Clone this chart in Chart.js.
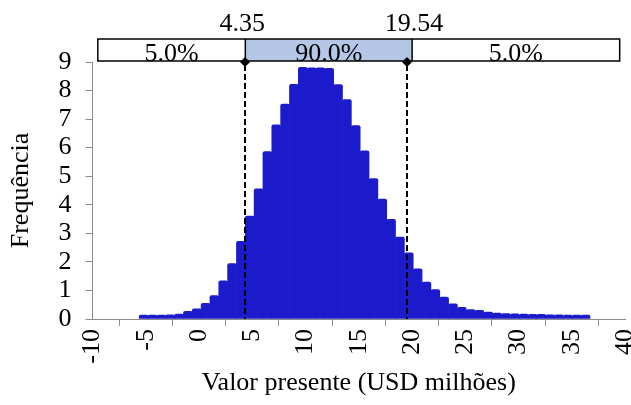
<!DOCTYPE html>
<html>
<head>
<meta charset="utf-8">
<script src="https://cdn.jsdelivr.net/npm/chart.js@4.4.1/dist/chart.umd.min.js"></script>
<style>
  html, body { margin: 0; padding: 0; background: #ffffff; }
  #wrap { width: 631px; height: 405px; }
</style>
</head>
<body>
<div id="wrap"><canvas id="histChart" width="631" height="405"></canvas></div>
<script>
// bin centres (USD milhões) and frequencies
const binCenters = [-5.20, -4.37, -3.54, -2.71, -1.88, -1.05, -0.22, 0.61, 1.44, 2.27,
    3.10, 3.93, 4.76, 5.59, 6.42, 7.25, 8.08, 8.91, 9.74, 10.57,
    11.40, 12.23, 13.06, 13.89, 14.72, 15.55, 16.38, 17.21, 18.04, 18.87,
    19.70, 20.53, 21.36, 22.19, 23.02, 23.85, 24.68, 25.51, 26.34, 27.17,
    28.00, 28.83, 29.66, 30.49, 31.32, 32.15, 32.98, 33.81, 34.64, 35.47, 36.30];
const frequencies = [0.14, 0.14, 0.14, 0.15, 0.17, 0.27, 0.36, 0.55, 0.82, 1.34,
    1.94, 2.72, 3.60, 4.56, 5.86, 6.80, 7.53, 8.22, 8.81, 8.80,
    8.80, 8.78, 8.21, 7.68, 6.77, 5.89, 4.92, 4.20, 3.49, 2.87,
    2.32, 1.76, 1.29, 1.03, 0.77, 0.53, 0.41, 0.33, 0.30, 0.24,
    0.21, 0.19, 0.18, 0.17, 0.16, 0.16, 0.15, 0.15, 0.14, 0.14, 0.14];
const cutoffs = [4.35, 19.54];
const cutoffLabels = ["4.35", "19.54"];
const bandLabels = ["5.0%", "90.0%", "5.0%"];

const serif = "'Liberation Serif', 'Times New Roman', serif";

const bandPlugin = {
    id: "bandPlugin",
    afterDatasetsDraw(chart) {
        const ctx = chart.ctx;
        const xs = chart.scales.x;
        const ys = chart.scales.y;
        const top = 39, bottom = 61;
        const left = xs.getPixelForValue(-9.5);
        const right = xs.getPixelForValue(39.5);
        const c1 = xs.getPixelForValue(cutoffs[0]);
        const c2 = xs.getPixelForValue(cutoffs[1]) + 5;
        ctx.save();

        // dashed cutoff lines
        ctx.strokeStyle = "#000";
        ctx.lineWidth = 2;
        ctx.setLineDash([6, 3]);
        cutoffs.forEach(v => {
            const px = Math.round(xs.getPixelForValue(v));
            ctx.beginPath();
            ctx.moveTo(px, bottom + 4);
            ctx.lineTo(px, ys.getPixelForValue(0));
            ctx.stroke();
        });
        ctx.setLineDash([]);

        // band
        ctx.fillStyle = "#fff";
        ctx.fillRect(left, top, right - left, bottom - top);
        ctx.fillStyle = "#b4c7e7";
        ctx.fillRect(c1, top, c2 - c1, bottom - top);
        ctx.lineWidth = 1.5;
        ctx.strokeRect(left, top, right - left, bottom - top);
        ctx.beginPath();
        ctx.moveTo(c1, top); ctx.lineTo(c1, bottom);
        ctx.moveTo(c2, top); ctx.lineTo(c2, bottom);
        ctx.stroke();

        // band texts, clipped to the band
        ctx.save();
        ctx.beginPath();
        ctx.rect(left, top, right - left, bottom - top);
        ctx.clip();
        ctx.fillStyle = "#000";
        ctx.font = "26px " + serif;
        ctx.textAlign = "center";
        ctx.textBaseline = "alphabetic";
        const mids = [(left + c1) / 2, (c1 + c2) / 2, (c2 + right) / 2];
        bandLabels.forEach((t, i) => ctx.fillText(t, mids[i], 61));
        ctx.restore();

        // cutoff values above band
        ctx.fillStyle = "#000";
        ctx.font = "26px " + serif;
        ctx.textAlign = "center";
        ctx.fillText(cutoffLabels[0], c1 - 3, 31);
        ctx.fillText(cutoffLabels[1], c2 + 2, 31);

        // diamonds
        cutoffs.forEach(v => {
            const px = Math.round(xs.getPixelForValue(v));
            ctx.beginPath();
            ctx.moveTo(px, bottom - 4);
            ctx.lineTo(px + 5, bottom + 1);
            ctx.lineTo(px, bottom + 6);
            ctx.lineTo(px - 5, bottom + 1);
            ctx.closePath();
            ctx.fill();
        });
        ctx.restore();
    }
};

new Chart(document.getElementById("histChart"), {
    type: "bar",
    data: {
        datasets: [{
            data: binCenters.map((x, i) => ({ x: x, y: frequencies[i] })),
            backgroundColor: "#1b1bcc",
            borderColor: "#1b1bcc",
            borderWidth: 0,
            borderRadius: 2,
            barPercentage: 1,
            categoryPercentage: 1
        }]
    },
    options: {
        responsive: false,
        animation: false,
        layout: { padding: { top: 62, right: 6, left: 0, bottom: 0 } },
        plugins: { legend: { display: false }, tooltip: { enabled: false } },
        scales: {
            x: {
                type: "linear",
                min: -10,
                max: 40,
                offset: false,
                afterFit(scale) {
                    scale.height = 86;
                    scale.paddingLeft = 0;
                    scale.paddingRight = 0;
                },
                border: { color: "#8c8c8c", width: 1 },
                grid: { drawOnChartArea: false, color: "#8c8c8c", tickLength: 7 },
                ticks: {
                    stepSize: 5,
                    autoSkip: false,
                    minRotation: 90,
                    maxRotation: 90,
                    color: "#000",
                    font: { family: serif, size: 26 },
                    padding: 3
                },
                title: {
                    display: true,
                    text: "Valor presente (USD milhões)",
                    color: "#000",
                    font: { family: serif, size: 26 },
                    padding: { top: 2, bottom: 6 }
                }
            },
            y: {
                min: 0,
                max: 9,
                afterFit(scale) {
                    scale.width = 92.5;
                },
                border: { color: "#8c8c8c", width: 1 },
                grid: { drawOnChartArea: false, color: "#8c8c8c", tickLength: 7 },
                ticks: {
                    stepSize: 1,
                    autoSkip: false,
                    color: "#000",
                    font: { family: serif, size: 26 },
                    padding: 14
                },
                title: {
                    display: true,
                    text: "Frequência",
                    color: "#000",
                    font: { family: serif, size: 26 },
                    padding: { top: 6, bottom: 0 }
                }
            }
        }
    },
    plugins: [bandPlugin]
});
</script>
</body>
</html>
